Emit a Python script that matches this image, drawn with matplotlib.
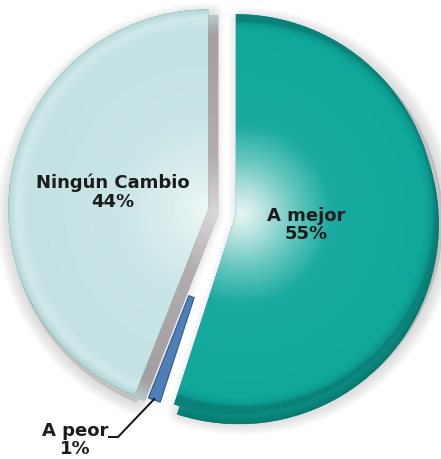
import numpy as np
import matplotlib
matplotlib.use("Agg")
import matplotlib.pyplot as plt
from matplotlib.patches import Wedge
from matplotlib.colors import LinearSegmentedColormap

# Survey result shares (percent)
labels = ["A mejor", "A peor", "Ningún Cambio"]
values = [55, 1, 44]
explode = [0.07, 0.0, 0.07]

W, H = 441, 460
fig = plt.figure(figsize=(W / 100, H / 100), dpi=100)
fig.patch.set_facecolor("white")
ax = fig.add_axes([0, 0, 1, 1])

wedges, _ = ax.pie(values, explode=explode, startangle=90, counterclock=False,
                   radius=1.0, wedgeprops=dict(linewidth=0))
w_mejor, w_peor, w_ninguno = wedges


def geom(w):
    return w.center, w.r, w.theta1, w.theta2


def soft_shadow(w, dx, dy, layers=10, spread=2.0, alpha=0.02, z=0.5):
    (cx, cy), r, t1, t2 = geom(w)
    for k in range(layers, 0, -1):
        ax.add_patch(Wedge((cx + dx, cy + dy), r, t1, t2,
                           facecolor="#555555", edgecolor="#555555",
                           linewidth=k * spread, alpha=alpha, zorder=z,
                           joinstyle="round"))


def extrusion(w, dx, dy, face, z=1.5):
    (cx, cy), r, t1, t2 = geom(w)
    p = Wedge((cx + dx, cy + dy), r, t1, t2, facecolor=face,
              edgecolor="none", zorder=z)
    ax.add_patch(p)
    return p


def radial_fill(w, stops, focus=(0.0, 0.0), z=3):
    (cx, cy), r, t1, t2 = geom(w)
    ext = (cx - r, cx + r, cy - r, cy + r)
    n = 500
    X, Y = np.meshgrid(np.linspace(ext[0], ext[1], n),
                       np.linspace(ext[2], ext[3], n))
    D = np.hypot(X - (cx + focus[0] * r), Y - (cy + focus[1] * r)) / r
    cmap = LinearSegmentedColormap.from_list("g", stops)
    im = ax.imshow(np.clip(D, 0, 1), cmap=cmap, vmin=0, vmax=1, extent=ext,
                   origin="lower", zorder=z, interpolation="bilinear")
    im.set_clip_path(w)
    return im


# soft drop shadows
soft_shadow(w_mejor, 0.035, -0.035)
soft_shadow(w_ninguno, 0.01, -0.035)

# slab thickness
side_m = extrusion(w_mejor, 0.015, -0.05, "#0c9488")
radial_fill(side_m, [(0, "#7fd0c8"), (0.5, "#16a69a"), (0.93, "#10998d"),
                     (1.0, "#087a70")], z=1.6)
side_n = extrusion(w_ninguno, 0.05, -0.03, "#a7a1a4")
radial_fill(side_n, [(0, "#dcd8da"), (0.3, "#b3adb0"), (0.9, "#a39ea1"),
                     (1.0, "#b9c9cb")], z=1.6)

# top faces
w_mejor.set_zorder(2)
w_ninguno.set_zorder(2)
radial_fill(w_mejor, [(0.0, "#e6f5f3"), (0.1, "#bde5e1"), (0.27, "#66c7bf"),
                      (0.45, "#1aaa9f"), (0.92, "#10a89b"), (0.955, "#0c9a8f"),
                      (0.97, "#0a8277"), (1.0, "#0a8277")],
            focus=(0.03, 0.0), z=3)
radial_fill(w_ninguno, [(0.0, "#eef7f7"), (0.2, "#dcedee"), (0.45, "#c9e5e7"),
                        (0.9, "#c4e2e4"), (0.96, "#d0e9ea"), (1.0, "#b4d7da")],
            z=3)

# the thin slice shows only its outer part, as a narrow bar in the gap
w_peor.set_width(0.55)
w_peor.set_facecolor("#4f7fb7")
w_peor.set_edgecolor("#2c5a92")
w_peor.set_linewidth(0.8)
w_peor.set_zorder(2.5)

# labels
txt = dict(ha="center", va="center", fontsize=13, fontweight="bold",
           color="#1c1c1c", family="DejaVu Sans", linespacing=1.05, zorder=6)
ax.text(0.4225, -0.06, f"{labels[0]}\n{values[0]}%", **txt)
ax.text(-0.545, 0.1025, f"{labels[2]}\n{values[2]}%", **txt)
ax.text(-0.735, -1.135, f"{labels[1]}\n{values[1]}%", **txt)

# leader line from the small slice to its label
(cx, cy), r, t1, t2 = geom(w_peor)
tm = np.deg2rad((t1 + t2) / 2)
tip = (cx + 0.99 * r * np.cos(tm), cy + 0.99 * r * np.sin(tm))
ax.plot([tip[0], -0.52, -0.57], [tip[1], -1.125, -1.125],
        color="#111111", lw=1.4, zorder=6, solid_capstyle="butt")

ax.set_xlim(-1.11, 1.095)
ax.set_ylim(-1.235, 1.065)
ax.set_aspect("auto")
ax.axis("off")

fig.savefig("out.png", dpi=100, facecolor="white")
